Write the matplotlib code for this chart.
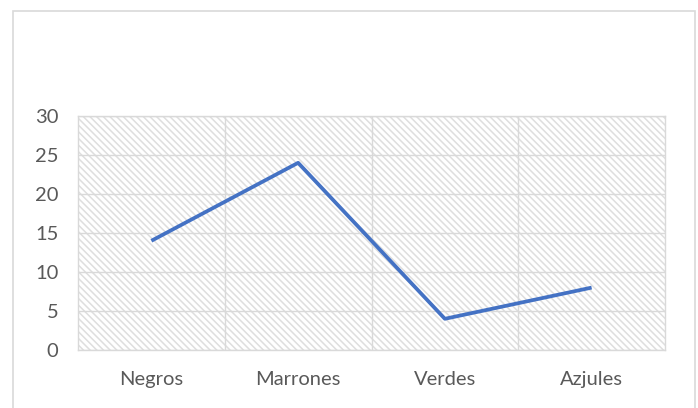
import matplotlib.pyplot as plt
from matplotlib.patches import Rectangle

categories = ["Negros", "Marrones", "Verdes", "Azjules"]
values = [14, 24, 4, 8]
yticks = [0, 5, 10, 15, 20, 25, 30]

plt.rcParams["font.family"] = ["Lato", "DejaVu Sans"]
plt.rcParams["hatch.linewidth"] = 1.1

fig = plt.figure(figsize=(6.98, 4.08), dpi=100)
W, H = 698, 408

# chart area frame
fig.add_artist(Rectangle((13 / W, -0.05), (695 - 13) / W, 1.05 - 11 / H,
                         transform=fig.transFigure, fill=False,
                         edgecolor="#d9d9d9", lw=1.2))

ax = fig.add_axes([78 / W, 1 - 350 / H, (665 - 78) / W, (350 - 116) / H])
ax.patch.set_facecolor("white")
ax.add_patch(Rectangle((0, 0), 1, 1, transform=ax.transAxes, fill=False,
                       hatch="\\\\\\\\\\", edgecolor="#dedede", lw=0, zorder=0))

x = list(range(len(categories)))
ax.plot(x, values, color="#4472C4", lw=2.7, solid_capstyle="butt", zorder=3)

ax.set_xlim(-0.5, len(categories) - 0.5)
ax.set_ylim(0, 30)
ax.set_yticks(yticks)
ax.set_xticks(x)
ax.set_xticklabels(categories)

for y in yticks:
    ax.axhline(y, color="#d9d9d9", lw=1, zorder=1)
for b in [0.5, 1.5, 2.5]:
    ax.axvline(b, color="#d9d9d9", lw=1, zorder=1)

for s in ax.spines.values():
    s.set_color("#d9d9d9")
    s.set_linewidth(1)

ax.tick_params(length=0, colors="#595959", labelsize=14.5)
ax.tick_params(axis="y", pad=14)
ax.tick_params(axis="x", pad=15)

fig.savefig("out.png", dpi=100)
